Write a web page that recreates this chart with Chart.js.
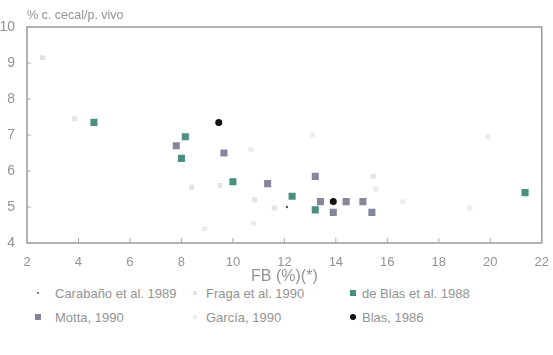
<!DOCTYPE html>
<html>
<head>
<meta charset="utf-8">
<script src="https://cdn.jsdelivr.net/npm/chart.js@4/dist/chart.umd.min.js"></script>
<style>
  html, body { margin: 0; padding: 0; background: #fff; }
  #wrap { position: relative; width: 553px; height: 290px; }
  #legend {
    display: grid;
    grid-template-columns: 158px 160px 190px;
    margin-left: 30px;
    margin-top: -6px;
    row-gap: 6px;
    font-family: "Liberation Sans", Arial, sans-serif;
    font-size: 13px;
    color: #939393;
  }
  .item { display: flex; align-items: center; height: 18px; }
  .mk { display: flex; justify-content: center; }
  .c0 .mk { width: 16px; margin-right: 9px; }
  .c1 .mk { width: 14px; margin-right: 4px; }
  .c2 .mk { width: 10px; margin-right: 4px; }
</style>
</head>
<body>
<div id="wrap"><canvas id="chart"></canvas></div>
<div id="legend"></div>
<script>
  // tick labels
  const xTicks = [2, 4, 6, 8, 10, 12, 14, 16, 18, 20, 22];
  const yTicks = [4, 5, 6, 7, 8, 9, 10];

  // series (FB %, cecal content % live weight)
  const carabanoX = [12.1];
  const carabanoY = [5.0];

  const fragaX = [2.6, 3.85, 8.4, 9.5, 10.85, 11.6, 15.45];
  const fragaY = [9.15, 7.45, 5.55, 5.6, 5.2, 4.97, 5.85];

  const deBlasX = [4.6, 8.15, 8.0, 10.0, 12.3, 13.2, 21.35];
  const deBlasY = [7.35, 6.95, 6.35, 5.7, 5.3, 4.92, 5.4];

  const mottaX = [7.8, 9.65, 11.35, 13.2, 13.4, 13.9, 14.4, 15.05, 15.4];
  const mottaY = [6.7, 6.5, 5.65, 5.85, 5.15, 4.85, 5.15, 5.15, 4.85];

  const garciaX = [8.9, 10.8, 10.7, 15.55, 16.6, 13.1, 19.9, 19.2];
  const garciaY = [4.4, 4.55, 6.6, 5.5, 5.15, 7.0, 6.95, 4.97];

  const blasX = [9.45, 13.9];
  const blasY = [7.35, 5.15];

  const pts = (xs, ys) => xs.map((x, i) => ({ x: x, y: ys[i] }));

  const series = [
    { label: 'Carabaño et al. 1989', data: pts(carabanoX, carabanoY), style: 'circle', r: 1.2, color: '#555' },
    { label: 'Fraga et al. 1990', data: pts(fragaX, fragaY), style: 'rect', r: 3.5, color: '#e2e2e2' },
    { label: 'de Blas et al. 1988', data: pts(deBlasX, deBlasY), style: 'rect', r: 5, color: '#4a8f80' },
    { label: 'Motta, 1990', data: pts(mottaX, mottaY), style: 'rect', r: 5, color: '#85869c' },
    { label: 'García, 1990', data: pts(garciaX, garciaY), style: 'rect', r: 3.5, color: '#ebebeb' },
    { label: 'Blas, 1986', data: pts(blasX, blasY), style: 'circle', r: 3.5, color: '#111' },
  ];

  const font = "'Liberation Sans', Arial, sans-serif";
  const grey = '#939393';

  // frame + inward ticks + y title
  const framePlugin = {
    id: 'frame',
    afterDraw(chart) {
      const { ctx, chartArea: a, scales } = chart;
      ctx.save();
      ctx.strokeStyle = '#9a9a9a';
      ctx.lineWidth = 1.5;
      ctx.strokeRect(a.left, a.top, a.right - a.left, a.bottom - a.top);
      ctx.lineWidth = 1;
      ctx.strokeStyle = '#aaa';
      xTicks.forEach(v => {
        const px = scales.x.getPixelForValue(v);
        ctx.beginPath(); ctx.moveTo(px, a.bottom); ctx.lineTo(px, a.bottom - 5); ctx.stroke();
      });
      yTicks.forEach(v => {
        const py = scales.y.getPixelForValue(v);
        ctx.beginPath(); ctx.moveTo(a.left, py); ctx.lineTo(a.left + 4, py); ctx.stroke();
      });
      ctx.fillStyle = grey;
      ctx.font = '12.5px ' + font;
      ctx.textBaseline = 'alphabetic';
      ctx.fillText('% c. cecal/p. vivo', a.left, a.top - 8);
      ctx.restore();
    }
  };

  new Chart(document.getElementById('chart'), {
    type: 'scatter',
    data: {
      datasets: series.map(s => ({
        label: s.label,
        data: s.data,
        pointStyle: s.style,
        pointRadius: s.r,
        backgroundColor: s.color,
        borderColor: s.color,
        borderWidth: 0,
      })),
    },
    options: {
      responsive: true,
      maintainAspectRatio: false,
      animation: false,
      layout: { padding: { top: 27, right: 11, left: 0, bottom: 0 } },
      plugins: {
        legend: { display: false },
        tooltip: { enabled: false },
      },
      scales: {
        x: {
          type: 'linear',
          min: 2, max: 22,
          afterBuildTicks: s => { s.ticks = xTicks.map(v => ({ value: v })); },
          afterFit: s => { s.height = 47; },
          grid: { display: false },
          border: { display: false },
          ticks: { color: grey, padding: 4, font: { family: font, size: 13 } },
          title: { display: true, text: 'FB (%)(*)', color: grey, padding: { top: 2 }, font: { family: font, size: 16 } },
        },
        y: {
          min: 4, max: 10,
          afterBuildTicks: s => { s.ticks = yTicks.map(v => ({ value: v })); },
          afterFit: s => { s.width = 27; },
          grid: { display: false },
          border: { display: false },
          ticks: { color: grey, padding: 4, font: { family: font, size: 14 } },
        },
      },
    },
    plugins: [framePlugin],
  });

  // legend, 3 columns x 2 rows
  const legend = document.getElementById('legend');
  series.forEach((s, i) => {
    const item = document.createElement('div');
    item.className = 'item c' + (i % 3);
    const mk = document.createElement('span');
    mk.className = 'mk';
    const dot = document.createElement('span');
    const size = s.style === 'rect' ? Math.round(s.r * 1.2) : Math.round(s.r * 1.6);
    dot.style.width = size + 'px';
    dot.style.height = size + 'px';
    dot.style.background = s.color;
    if (s.style === 'circle') dot.style.borderRadius = '50%';
    mk.appendChild(dot);
    const txt = document.createElement('span');
    txt.textContent = s.label;
    item.appendChild(mk);
    item.appendChild(txt);
    legend.appendChild(item);
  });
</script>
</body>
</html>
